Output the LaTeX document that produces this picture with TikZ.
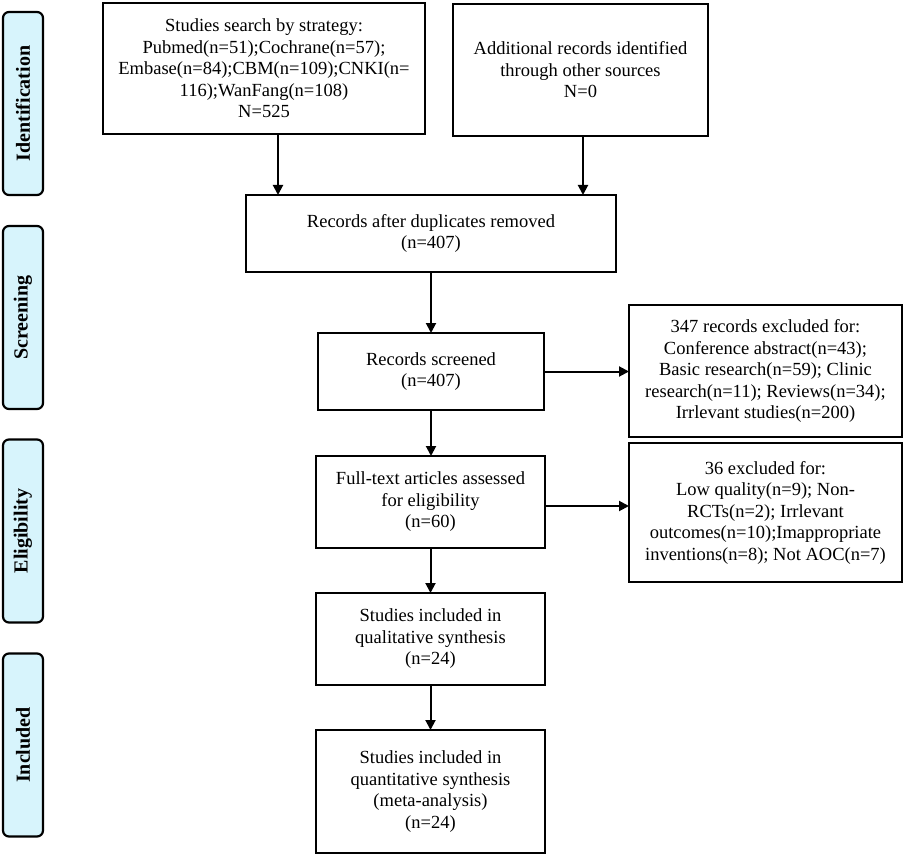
\documentclass[tikz,border=0pt]{standalone}
\usepackage{fontspec}
\setmainfont{Liberation Serif}
\usetikzlibrary{arrows.meta}
\definecolor{labfill}{RGB}{215,244,252}
\tikzset{
  every node/.style={outer sep=0pt},
  box/.style={draw=black, line width=2.2pt, fill=white, align=center, inner sep=2pt,
    font=\fontsize{18.5}{21.5}\selectfont},
  phase/.style={draw=black, line width=2.2pt, fill=labfill, rounded corners=6pt,
    minimum width=40pt, minimum height=183pt, inner sep=0pt},
  phasetext/.style={rotate=90, font=\fontsize{20}{22}\selectfont\bfseries},
  arr/.style={line width=2pt, -{Triangle[length=10pt,width=10pt]}}
}
\begin{document}
\begin{tikzpicture}[x=1pt,y=-1pt]
\useasboundingbox (0,0) rectangle (906,856);
% phase labels
\node[phase] (pI) at (23,103.5) {};
\node[phasetext] (tI) at (pI.center) {Identification};
\node[phase] (pS) at (23,317.5) {};
\node[phasetext] (tS) at (pS.center) {Screening};
\node[phase] (pE) at (23,531) {};
\node[phasetext] (tE) at (pE.center) {Eligibility};
\node[phase] (pN) at (23,745) {};
\node[phasetext] (tN) at (pN.center) {Included};
% boxes
\node[box, minimum width=322pt, minimum height=131pt] (search) at (264,68.5)
  {Studies search by strategy:\\Pubmed(n=51);Cochrane(n=57);\\Embase(n=84);CBM(n=109);CNKI(n=\\116);WanFang(n=108)\\N=525};
\node[box, minimum width=255pt, minimum height=132pt] (other) at (580.5,70)
  {Additional records identified\\through other sources\\N=0};
\node[box, minimum width=370pt, minimum height=77pt] (dup) at (431,233.5)
  {Records after duplicates removed\\(n=407)};
\node[box, minimum width=226pt, minimum height=77pt] (scr) at (431,371.5)
  {Records screened\\(n=407)};
\node[box, minimum width=273pt, minimum height=132pt] (ex1) at (765.5,371)
  {347 records excluded for:\\Conference abstract(n=43);\\Basic research(n=59); Clinic\\research(n=11); Reviews(n=34);\\Irrlevant studies(n=200)};
\node[box, minimum width=229pt, minimum height=92pt] (full) at (430.5,502)
  {Full-text articles assessed\\for eligibility\\(n=60)};
\node[box, minimum width=273pt, minimum height=139pt] (ex2) at (765.5,512.5)
  {36 excluded for:\\Low quality(n=9); Non-\\RCTs(n=2); Irrlevant\\outcomes(n=10);Imappropriate\\inventions(n=8); Not AOC(n=7)};
\node[box, minimum width=229pt, minimum height=92pt] (qual) at (430.5,639)
  {Studies included in\\qualitative synthesis\\(n=24)};
\node[box, minimum width=229pt, minimum height=123pt] (quant) at (430.5,791.5)
  {Studies included in\\quantitative synthesis\\(meta-analysis)\\(n=24)};
% arrows
\draw[arr] ([xshift=14pt]search.south) -- ([xshift=14pt]search.south |- dup.north);
\draw[arr] ([xshift=2.5pt]other.south) -- ([xshift=2.5pt]other.south |- dup.north);
\draw[arr] (dup.south) -- (scr.north);
\draw[arr] (scr.east) -- (scr.east -| ex1.west);
\draw[arr] (scr.south) -- (scr.south |- full.north);
\draw[arr] ([yshift=-4pt]full.east) -- ([yshift=-4pt]full.east -| ex2.west);
\draw[arr] (full.south) -- (qual.north);
\draw[arr] (qual.south) -- (quant.north);
\end{tikzpicture}
\end{document}
